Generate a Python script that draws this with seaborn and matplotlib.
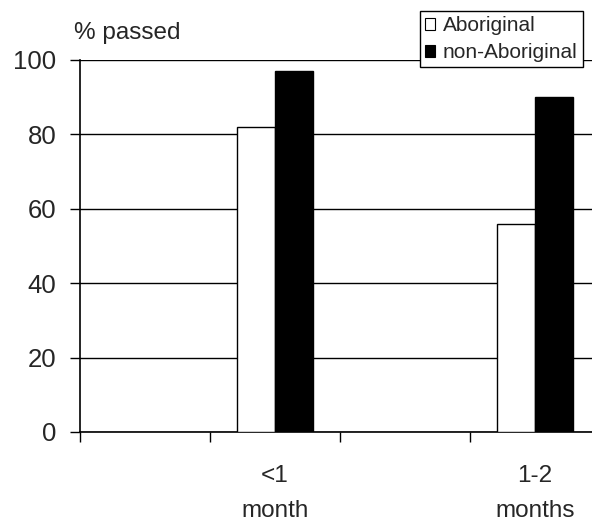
import numpy as np
import pandas as pd
import matplotlib
matplotlib.use("Agg")
import matplotlib.pyplot as plt
import seaborn as sns
from matplotlib.patches import Patch

categories = ["", "<1\nmonth", " ", "1-2\nmonths"]
aboriginal = [np.nan, 82, np.nan, 56]
non_aboriginal = [np.nan, 97, np.nan, 90]
series = ["Aboriginal", "non-Aboriginal"]
yticks = [0, 20, 40, 60, 80, 100]

sns.set_theme(style="white")
plt.rcParams["font.family"] = ["Liberation Sans", "DejaVu Sans"]

rows = []
for c, a, n in zip(categories, aboriginal, non_aboriginal):
    rows.append({"cat": c, "group": series[0], "val": a})
    rows.append({"cat": c, "group": series[1], "val": n})
df = pd.DataFrame(rows)

fig = plt.figure(figsize=(5.92, 5.21), dpi=100)
ax = fig.add_axes([0.135, 0.171, 0.878, 0.714])

sns.barplot(data=df, x="cat", y="val", hue="group", order=categories,
            hue_order=series, palette=["white", "black"], width=0.585,
            edgecolor="black", linewidth=1.0, ax=ax, zorder=3, legend=False)

ax.set_ylim(0, 100)
ax.set_xlim(-0.5, 3.5)
ax.set_yticks(yticks)
ax.set_yticklabels([str(v) for v in yticks], fontsize=18.5)
ax.yaxis.grid(True, color="black", linewidth=1.0, zorder=0)
ax.set_axisbelow(True)
ax.set_xlabel("")
ax.set_ylabel("")

# tick marks at category boundaries, labels at centers
ax.set_xticks([-0.5, 0.5, 1.5, 2.5, 3.5])
ax.set_xticklabels([])
ax.set_xticks(range(len(categories)), minor=True)
ax.set_xticklabels(categories, minor=True, fontsize=17.5, linespacing=1.75)
ax.tick_params(axis="x", which="major", direction="out", length=7, width=1, color="black", bottom=True)
ax.tick_params(axis="x", which="minor", length=0, pad=24)
ax.tick_params(axis="y", direction="out", length=7, width=1, color="black", left=True, pad=10)

for s in ["top", "right"]:
    ax.spines[s].set_visible(False)
for s in ["left", "bottom"]:
    ax.spines[s].set_color("black")
    ax.spines[s].set_linewidth(1.2)

fig.text(0.125, 0.937, "% passed", fontsize=17.5, ha="left", va="center")

handles = [Patch(facecolor="white", edgecolor="black", linewidth=0.8),
           Patch(facecolor="black", edgecolor="black", linewidth=0.8)]
leg = fig.legend(handles, series, loc="upper right", bbox_to_anchor=(0.984, 0.979),
                 fontsize=15, frameon=True, fancybox=False, edgecolor="black",
                 handlelength=0.5, handleheight=0.5, handletextpad=0.35,
                 borderpad=0.25, labelspacing=0.38, borderaxespad=0)
leg.get_frame().set_linewidth(1.0)
leg.get_frame().set_alpha(1)

fig.savefig("out.png", dpi=100)
